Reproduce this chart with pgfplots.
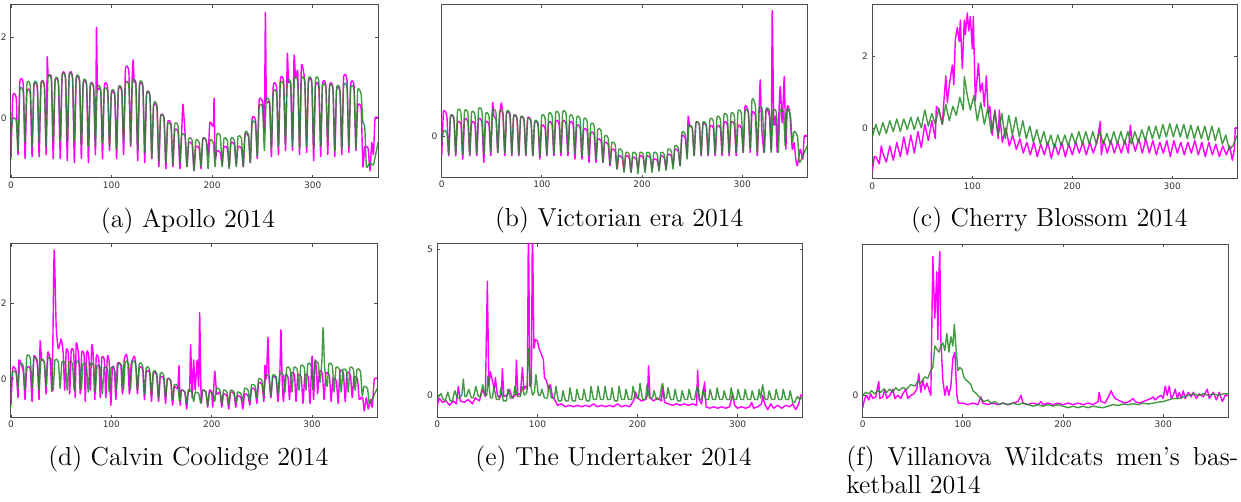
\documentclass[border=0pt]{standalone}
\usepackage{pgfplots}
\pgfplotsset{compat=1.18}
\usepackage{fontspec}
\newfontfamily\tickfont{DejaVu Sans}
\definecolor{mag}{RGB}{255,0,255}
\definecolor{grn}{RGB}{34,139,34}
\pgfplotsset{
  panel/.style={scale only axis, anchor=south west, xmin=0, xmax=365,
    xtick={0,100,200,300}, tick align=inside, major tick length=1.5pt,
    tick style={black!70, line width=0.4pt},
    axis line style={black!70, line width=0.5pt},
    ticklabel style={font=\tickfont\fontsize{4.5}{5}\selectfont, text=black!80, inner sep=0pt},
    xticklabel style={yshift=-1.6pt}, yticklabel style={xshift=-2pt},
    /pgf/number format/assume math mode=true},
  m/.style={mag, line width=0.7pt, line join=round},
  g/.style={grn, line width=0.7pt, line join=round, opacity=0.85},
  sm/.style={smooth, tension=0.3}
}
\begin{document}
\begin{tikzpicture}
\path[use as bounding box] (0,0) rectangle (620.5pt,251pt);
% (a) Apollo
\begin{axis}[panel, at={(5.5pt,162pt)}, width=183.5pt, height=86.5pt, ymin=-1.48, ymax=2.81, ytick={0,2}]
\addplot[m,sm] coordinates {(0,-1.0) (1.8,0.55) (5.2,0.5) (7,-0.9) (8.8,0.9) (12.2,0.85) (14,-1.0) (15.8,0.65) (19.2,0.6) (21,-0.95) (22.8,0.8) (26.2,0.75) (28,-0.95) (29.8,0.85) (33.2,0.8) (35,-0.9) (36,1.5) (37,1.05) (40.2,1.0) (42,-1.0) (43.8,0.9) (47.2,0.85) (49,-1.0) (50.8,1.05) (54.2,1.0) (56,-1.05) (57.8,1.05) (61.2,1.0) (63,-1.1) (64.8,0.95) (68.2,0.9) (70,-1.0) (71.8,0.85) (75.2,0.8) (77,-1.1) (78.8,0.8) (82.2,0.75) (84,-0.9) (85,2.25) (86,0.75) (89.2,0.7) (91,-1.0) (92.8,0.8) (96.2,0.75) (98,-0.8) (99.8,0.6) (103.2,0.55) (105,-1.0) (106.8,0.7) (110.2,0.65) (112,-0.9) (113.8,1.2) (117.2,1.15) (119,-0.7) (120.5,1.0) (121.5,1.45) (122.5,0.9) (124.2,0.85) (126,-1.05) (127.8,0.8) (131.2,0.75) (133,-1.1) (134.8,0.6) (138.2,0.55) (140,-1.0) (141.8,0.3) (145.2,0.25) (147,-1.2) (148.8,0.05) (152.2,0.0) (154,-1.25) (155.8,-0.1) (159.2,-0.15) (161,-1.2) (162.8,-0.3) (166.2,-0.35) (168,-1.25) (169.8,-0.3) (171,0.35) (173.2,-0.4) (175,-1.2) (176.8,-0.6) (180.2,-0.65) (182,-1.3) (183.8,-0.7) (187.2,-0.75) (189,-1.25) (190.8,-0.5) (194.2,-0.55) (196,-0.9) (197.8,-0.1) (201.2,-0.2) (202,0.5) (203,-1.0) (204.8,-0.8) (208.2,-0.85) (210,-1.15) (211.8,-0.7) (215.2,-0.75) (217,-1.2) (218.8,-0.6) (222.2,-0.65) (224,-1.15) (225.8,-0.7) (229.2,-0.75) (231,-1.2) (232.8,-0.4) (236.2,-0.45) (238,-1.1) (239.8,0.0) (243.2,-0.05) (245,-1.0) (246.8,0.45) (250.2,0.4) (252,-0.3) (253,2.62) (254,0.45) (257.2,0.4) (259,-0.95) (260.8,0.8) (264.2,0.75) (266,-0.9) (267.8,0.95) (271.2,0.9) (273,-0.8) (274.8,1.6) (276,0.9) (278.2,0.85) (280,-0.8) (281.5,1.55) (283,1.0) (285.2,1.15) (287,-0.9) (288.8,1.3) (292.2,0.9) (294,-0.85) (295.8,0.9) (299.2,0.85) (301,-1.05) (302.8,0.8) (306.2,0.75) (308,-0.95) (309.8,0.85) (313.2,0.8) (315,-0.9) (316.8,0.8) (320.2,0.75) (322,-0.95) (323.8,0.7) (327.2,0.65) (329,-0.9) (330.8,1.0) (334.2,0.95) (336,-0.85) (337.8,0.85) (341.2,0.8) (343,-0.8) (344.8,0.3) (348.2,0.25) (350,-1.2) (351.8,-0.7) (355.2,-0.75) (357,-1.3) (358.8,-0.6) (360.5,-0.9) (362,0) (365,0)};
\addplot[g,sm] coordinates {(0,-0.4) (1.8,0.0) (5.2,-0.05) (7,-0.8) (8.8,0.7) (12.2,0.65) (14,-0.6) (15.8,0.85) (19.2,0.8) (21,-0.7) (22.8,0.85) (26.2,0.8) (28,-0.6) (29.8,0.85) (33.2,0.8) (35,-0.7) (36.8,1.0) (40.2,0.95) (42,-0.6) (43.8,0.95) (47.2,0.9) (49,-0.55) (50.8,1.05) (54.2,1.0) (56,-0.6) (57.8,1.05) (61.2,1.0) (63,-0.55) (64.8,1.0) (68.2,0.95) (70,-0.65) (71.8,0.9) (75.2,0.85) (77,-0.7) (78.8,0.8) (82.2,0.75) (84,-0.7) (85.8,0.75) (89.2,0.7) (91,-0.6) (92.8,0.7) (96.2,0.65) (98,-0.7) (99.8,0.65) (103.2,0.6) (105,-0.75) (106.8,0.75) (110.2,0.7) (112,-0.6) (113.8,0.85) (117.2,0.8) (119,-0.65) (120.8,0.9) (124.2,0.85) (126,-0.8) (127.8,0.85) (131.2,0.8) (133,-0.85) (134.8,0.6) (138.2,0.55) (140,-1.0) (141.8,0.35) (145.2,0.3) (147,-1.05) (148.8,0.05) (152.2,0.0) (154,-1.1) (155.8,-0.15) (159.2,-0.2) (161,-1.15) (162.8,-0.15) (166.2,-0.2) (168,-1.1) (169.8,-0.4) (173.2,-0.45) (175,-1.2) (176.8,-0.5) (180.2,-0.55) (182,-1.3) (183.8,-0.55) (187.2,-0.6) (189,-1.2) (190.8,-0.5) (194.2,-0.55) (196,-1.25) (197.8,-0.55) (201.2,-0.6) (203,-1.2) (204.8,-0.4) (208.2,-0.45) (210,-1.2) (211.8,-0.5) (215.2,-0.55) (217,-1.25) (218.8,-0.5) (222.2,-0.55) (224,-1.2) (225.8,-0.45) (229.2,-0.5) (231,-1.2) (232.8,-0.35) (236.2,-0.4) (238,-1.1) (239.8,-0.1) (243.2,-0.15) (245,-0.95) (246.8,0.3) (250.2,0.25) (252,-0.8) (253.8,0.45) (257.2,0.4) (259,-0.75) (260.8,0.65) (264.2,0.6) (266,-0.7) (267.8,0.85) (271.2,0.8) (273,-0.65) (274.8,0.9) (278.2,0.85) (280,-0.7) (281.8,0.95) (285.2,0.9) (287,-0.75) (288.8,0.95) (292.2,0.9) (294,-0.7) (295.8,0.95) (299.2,0.9) (301,-0.75) (302.8,0.95) (306.2,0.9) (308,-0.7) (309.8,0.8) (313.2,0.75) (315,-0.6) (316.8,0.78) (320.2,0.73) (322,-0.8) (323.8,0.75) (327.2,0.7) (329,-0.75) (330.8,0.8) (334.2,0.75) (336,-0.7) (337.8,0.75) (341.2,0.7) (343,-0.75) (344.8,0.7) (348.2,0.6) (350,-0.1) (351.8,-0.2) (353.5,-1.2) (357,-1.1) (360.5,-1.15) (365,-0.6)};
\end{axis}
% (b) Victorian era
\begin{axis}[panel, at={(220.85pt,162.15pt)}, width=182.8pt, height=86.35pt, ymin=-0.632, ymax=1.985, ytick={0}]
\addplot[m,sm] coordinates {(0,-0.3) (1.8,0.37) (5.2,0.3) (7,-0.3) (8.8,0.3) (12.2,0.25) (14,-0.3) (15.8,0.2) (19.2,0.17) (21,-0.35) (22.8,0.25) (26.2,0.2) (28,-0.3) (29.8,0.2) (33.2,0.17) (35,-0.3) (36.8,0.25) (40.2,0.2) (42,-0.4) (43.8,0.2) (47.2,0.17) (49,-0.3) (50.8,0.5) (52,0.3) (54.2,0.25) (56,-0.25) (57.8,0.3) (59.5,0.5) (61.2,0.3) (63,-0.3) (64.8,0.35) (68.2,0.3) (70,-0.3) (71.8,0.3) (75.2,0.25) (77,-0.3) (78.8,0.28) (82.2,0.23) (84,-0.3) (85.8,0.27) (89.2,0.22) (91,-0.3) (92.8,0.2) (96.2,0.17) (98,-0.35) (99.8,0.15) (103.2,0.12) (105,-0.3) (106.8,0.2) (110.2,0.17) (112,-0.3) (113.8,0.22) (117.2,0.18) (119,-0.3) (120.8,0.22) (124.2,0.18) (126,-0.3) (127.8,0.2) (131.2,0.17) (133,-0.35) (134.8,0.15) (138.2,0.12) (140,-0.35) (141.8,0.1) (145.2,0.07) (147,-0.4) (148.8,0.05) (152.2,0.02) (154,-0.4) (155.8,-0.05) (159.2,-0.08) (161,-0.4) (162.8,-0.1) (166.2,-0.13) (168,-0.45) (169.8,-0.2) (173.2,-0.23) (175,-0.5) (176.8,-0.3) (180.2,-0.33) (182,-0.52) (183.8,-0.3) (187.2,-0.33) (189,-0.55) (190.8,-0.32) (194.2,-0.35) (196,-0.5) (197.8,-0.3) (201.2,-0.33) (203,-0.52) (204.8,-0.3) (208.2,-0.33) (210,-0.5) (211.8,-0.35) (215.2,-0.37) (217,-0.5) (218.8,-0.3) (222.2,-0.33) (224,-0.5) (225.8,-0.28) (229.2,-0.3) (231,-0.45) (232.8,-0.2) (236.2,-0.23) (238,-0.45) (239.8,0.0) (243.2,-0.03) (245,-0.3) (246,0.3) (247.5,0.15) (250.2,0.12) (252,-0.3) (253.8,0.2) (257.2,0.17) (259,-0.3) (260.8,0.18) (264.2,0.15) (266,-0.3) (267.8,0.15) (271.2,0.12) (273,-0.3) (274.8,0.15) (278.2,0.12) (280,-0.3) (281.8,0.2) (285.2,0.17) (287,-0.3) (288.8,0.2) (292.2,0.17) (294,-0.3) (295.8,0.15) (299.2,0.12) (301,-0.25) (302.8,0.45) (306.2,0.35) (308,-0.25) (309.8,0.35) (313.2,0.3) (315,-0.3) (316.5,0.2) (318,0.85) (319.5,0.1) (322,-0.25) (323.8,0.4) (327.2,0.3) (329,-0.2) (330,1.9) (331.5,0.2) (333.5,0.3) (335,-0.25) (336.5,0.3) (338,0.75) (340,0.2) (342,0.9) (343.5,-0.2) (345,0.45) (347.5,0.35) (350,-0.2) (351.8,-0.1) (353.5,-0.35) (355,-0.45) (358,-0.2) (360.5,-0.35) (362,0) (365,0)};
\addplot[g,sm] coordinates {(0,-0.1) (1.8,0.08) (5.2,0.05) (7,-0.28) (8.8,0.3) (12.2,0.27) (14,-0.28) (15.8,0.38) (19.2,0.35) (21,-0.28) (22.8,0.37) (26.2,0.34) (28,-0.28) (29.8,0.35) (33.2,0.32) (35,-0.27) (36.8,0.4) (40.2,0.37) (42,-0.27) (43.8,0.33) (47.2,0.3) (49,-0.25) (50.8,0.38) (54.2,0.35) (56,-0.25) (57.8,0.37) (61.2,0.34) (63,-0.26) (64.8,0.36) (68.2,0.33) (70,-0.28) (71.8,0.3) (75.2,0.27) (77,-0.28) (78.8,0.28) (82.2,0.25) (84,-0.28) (85.8,0.25) (89.2,0.22) (91,-0.3) (92.8,0.22) (96.2,0.19) (98,-0.3) (99.8,0.3) (103.2,0.27) (105,-0.28) (106.8,0.33) (110.2,0.3) (112,-0.27) (113.8,0.35) (117.2,0.32) (119,-0.25) (120.8,0.36) (124.2,0.33) (126,-0.25) (127.8,0.3) (131.2,0.27) (133,-0.27) (134.8,0.28) (138.2,0.25) (140,-0.3) (141.8,0.25) (145.2,0.22) (147,-0.3) (148.8,0.18) (152.2,0.15) (154,-0.35) (155.8,0.1) (159.2,0.07) (161,-0.4) (162.8,0.0) (166.2,-0.03) (168,-0.42) (169.8,-0.1) (173.2,-0.13) (175,-0.5) (176.8,-0.2) (180.2,-0.23) (182,-0.55) (183.8,-0.25) (187.2,-0.28) (189,-0.55) (190.8,-0.25) (194.2,-0.28) (196,-0.57) (197.8,-0.25) (201.2,-0.28) (203,-0.55) (204.8,-0.25) (208.2,-0.28) (210,-0.55) (211.8,-0.25) (215.2,-0.28) (217,-0.53) (218.8,-0.25) (222.2,-0.28) (224,-0.52) (225.8,-0.2) (229.2,-0.23) (231,-0.5) (232.8,-0.15) (236.2,-0.18) (238,-0.45) (239.8,0.05) (243.2,0.02) (245,-0.35) (246.8,0.15) (250.2,0.12) (252,-0.3) (253.8,0.2) (257.2,0.17) (259,-0.28) (260.8,0.2) (264.2,0.17) (266,-0.28) (267.8,0.25) (271.2,0.22) (273,-0.27) (274.8,0.28) (278.2,0.25) (280,-0.26) (281.8,0.32) (285.2,0.29) (287,-0.26) (288.8,0.33) (292.2,0.3) (294,-0.25) (295.8,0.37) (299.2,0.34) (301,-0.25) (302.8,0.38) (306.2,0.35) (308,-0.2) (309.8,0.55) (313.2,0.45) (315,-0.25) (316.8,0.42) (320.2,0.39) (322,-0.25) (323.8,0.4) (327.2,0.37) (329,-0.25) (330.8,0.38) (334.2,0.35) (336,-0.25) (337.8,0.38) (341.2,0.35) (343,-0.15) (344.8,0.42) (348.2,0.3) (350,-0.1) (351.8,0.07) (355.2,0.0) (357,-0.4) (360.5,-0.3) (365,-0.15)};
\end{axis}
% (c) Cherry Blossom
\begin{axis}[panel, at={(436.15pt,161.5pt)}, width=182.5pt, height=87pt, ymin=-1.42, ymax=3.42, ytick={0,2}]
\addplot[m] coordinates {(0,-1.2) (2,-0.8) (3.5,-0.8) (7,-1.0) (9,-0.5) (10.5,-0.7) (14,-0.95) (17.5,-0.5) (21,-0.9) (24.5,-0.4) (28,-0.8) (31.5,-0.25) (35,-0.75) (38.5,-0.2) (42,-0.7) (45.5,-0.1) (49,-0.55) (52.5,0.1) (56,-0.35) (59.5,0.2) (63,-0.3) (64,0.6) (66.5,0.5) (70,0.1) (72,0.9) (73.5,1.45) (75,0.7) (77,1.2) (80,1.75) (81.5,1.2) (83,2.45) (85,2.8) (87,2.4) (88,3.0) (90,1.65) (92,3.0) (93,2.6) (95,3.2) (96.5,2.7) (98,3.1) (100,2.2) (101,3.1) (103,0.75) (106,1.8) (108,1.0) (110,1.25) (112,0.6) (114,1.45) (116,0.4) (117.5,0.6) (120,-0.2) (122.5,0.5) (126,-0.3) (127,0.5) (130,-0.4) (133.5,0.0) (137,-0.5) (140.5,-0.2) (144,-0.6) (147.5,-0.3) (151,-0.7) (154.5,-0.4) (158,-0.75) (161.5,-0.4) (165,-0.8) (168.5,-0.45) (172,-0.75) (175.5,-0.4) (179,-0.85) (182.5,-0.45) (186,-0.75) (189.5,-0.4) (193,-0.8) (196.5,-0.45) (200,-0.75) (203.5,-0.4) (207,-0.7) (210.5,-0.4) (214,-0.75) (217.5,-0.4) (221,-0.7) (224.5,-0.4) (228,0.18) (229,-0.75) (231.5,-0.35) (235,-0.7) (238.5,-0.35) (242,-0.7) (245.5,-0.4) (249,-0.7) (252.5,-0.35) (256,-0.7) (258,0.08) (259.5,-0.3) (263,-0.65) (266.5,-0.3) (270,-0.7) (273.5,-0.3) (277,-0.7) (280.5,-0.35) (284,-0.75) (287.5,-0.4) (291,-0.7) (294.5,-0.35) (298,-0.8) (301.5,-0.35) (305,-0.7) (308.5,-0.4) (312,-0.75) (315.5,-0.4) (319,-0.7) (322.5,-0.35) (326,-0.75) (329.5,-0.4) (333,-0.8) (336.5,-0.4) (340,-0.75) (343.5,-0.45) (347,-0.8) (350.5,-0.5) (354,-0.75) (357.5,-0.5) (360,-0.9) (362,-0.6) (363,0) (365,0)};
\addplot[g] coordinates {(0,-0.25) (3.5,0.1) (7,-0.2) (10.5,0.15) (14,-0.15) (17.5,0.2) (21,-0.1) (24.5,0.25) (28,-0.1) (31.5,0.25) (35,-0.05) (38.5,0.3) (42,-0.05) (45.5,0.3) (49,0.0) (52.5,0.5) (56,0.05) (59.5,0.4) (63,0.1) (66.5,0.55) (70,0.1) (73.5,0.65) (77,0.2) (80.5,0.6) (84,0.35) (87.5,0.85) (91,0.5) (92,1.43) (95,0.9) (98,0.5) (101.5,0.9) (105,0.2) (108.5,0.7) (112,0.1) (115.5,0.55) (119,-0.15) (122.5,0.45) (126,-0.2) (129.5,0.4) (133,-0.3) (136.5,0.35) (140,-0.2) (143.5,0.3) (147,-0.25) (150.5,0.2) (154,-0.3) (157.5,0.05) (161,-0.4) (164.5,-0.05) (168,-0.45) (171.5,-0.1) (175,-0.5) (178.5,-0.2) (182,-0.55) (185.5,-0.2) (189,-0.5) (192.5,-0.2) (196,-0.5) (199.5,-0.15) (203,-0.45) (206.5,-0.1) (210,-0.45) (213.5,-0.1) (217,-0.45) (220.5,-0.1) (224,-0.45) (227.5,-0.1) (231,-0.45) (234.5,-0.15) (238,-0.45) (241.5,-0.1) (245,-0.45) (248.5,-0.1) (252,-0.45) (255.5,-0.1) (259,-0.45) (262.5,-0.1) (266,-0.4) (269.5,-0.05) (273,-0.35) (276.5,0.05) (280,-0.3) (283.5,0.05) (287,-0.3) (290.5,0.1) (294,-0.25) (297.5,0.12) (301,-0.25) (304.5,0.1) (308,-0.25) (311.5,0.1) (315,-0.3) (318.5,0.08) (322,-0.3) (325.5,0.05) (329,-0.3) (332.5,0.05) (336,-0.35) (339.5,0.05) (343,-0.35) (346.5,0.0) (350,-0.45) (353.5,-0.2) (357,-0.6) (360.5,-0.5) (365,-0.2)};
\end{axis}
% (d) Calvin Coolidge
\begin{axis}[panel, at={(5.5pt,42.15pt)}, width=183.15pt, height=86.85pt, ymin=-1.03, ymax=3.57, ytick={0,2}]
\addplot[m,sm] coordinates {(0,-0.7) (1.8,0.3) (5.2,0.2) (7,-0.5) (8,0.5) (12.2,0.2) (14,-0.55) (15.8,0.3) (19.2,0.25) (21,-0.6) (22.8,0.6) (26.2,0.4) (28,-0.55) (29,1.0) (30.5,0.5) (33.2,0.45) (35,-0.4) (36.5,0.7) (39,0.5) (41,-0.3) (43,3.4) (45,1.4) (47,0.8) (48.5,0.9) (50,1.05) (52,0.7) (53.5,-0.3) (55,0.75) (57,0.7) (58.5,-0.4) (60,0.75) (62.5,0.7) (64,-0.5) (65,0.95) (67.5,0.6) (69,-0.4) (70.5,0.7) (73,0.6) (74,-0.6) (75.5,0.7) (77.5,0.6) (79,-0.3) (80.5,0.9) (82,0.6) (83.5,-0.55) (85,0.6) (87.5,0.5) (89,-0.5) (90.5,0.55) (93,0.5) (94.5,-0.5) (96,0.6) (98,0.4) (99.5,-0.7) (101,0.3) (103,0.25) (104.5,-0.55) (106,0.4) (109.5,0.35) (111,-0.4) (112.8,0.5) (115,0.65) (116.5,0.4) (118,-0.4) (119.8,0.4) (123,0.6) (124.5,0.3) (126,-0.4) (127.8,0.3) (131.2,0.25) (133,-0.55) (134.8,0.2) (138.2,0.15) (140,-0.6) (141.8,0.15) (145.2,0.1) (147,-0.6) (148.8,0.05) (152.2,0.0) (154,-0.65) (155.8,0.0) (159.2,-0.05) (161,-0.7) (162.8,-0.2) (166.2,-0.25) (167.5,0.35) (168.5,-0.7) (169.8,-0.3) (173.2,-0.35) (175,-0.8) (176.8,-0.3) (178,-0.3) (179,0.9) (180.5,-0.5) (182,0.5) (183.5,-0.3) (185.5,0.5) (187,-0.2) (188,1.75) (189.5,-0.6) (191,-0.3) (194.2,-0.35) (196,-0.75) (197.8,-0.3) (200,-0.35) (201,-0.75) (203,0.2) (205,-0.4) (208.2,-0.35) (210,-0.75) (211.8,-0.4) (215.2,-0.45) (217,-0.8) (218.8,-0.35) (222.2,-0.4) (224,-0.75) (225.8,-0.45) (229.2,-0.5) (231,-0.8) (232.8,-0.4) (236.2,-0.45) (238,-0.7) (239.8,-0.25) (243.2,-0.3) (245,-0.65) (246.8,-0.1) (250.2,-0.15) (252,-0.6) (253,0.35) (254.5,0.0) (256,1.1) (257.2,0.0) (259,-0.5) (260.8,0.05) (264.2,0.0) (266,-0.6) (267.8,0.05) (269,1.3) (270.2,-0.05) (271.5,-0.6) (273.3,0.1) (276,0.05) (277.5,-0.55) (279.3,0.15) (282.5,0.1) (284,-0.6) (285.8,0.1) (289.2,0.05) (291,-0.65) (292.8,0.1) (296.2,0.05) (298,-0.65) (300,0.6) (301.5,-0.55) (303,0.5) (304.5,0.2) (305.5,-0.4) (307.3,0.2) (310.2,0.15) (312,-0.55) (313.8,0.15) (317.2,0.1) (319,-0.6) (320.8,0.0) (324.2,-0.05) (326,-0.65) (327.8,0.2) (331.2,0.15) (333,-0.6) (334.8,0.15) (338.2,0.1) (340,-0.5) (341.8,0.05) (345.2,0.0) (347,-0.55) (348.8,-0.5) (350.5,-0.5) (352,-0.85) (354,-0.5) (356,-0.8) (358,-0.55) (360,-0.75) (362,0) (365,0)};
\addplot[g,sm] coordinates {(0,-0.2) (1.8,0.2) (5.2,0.15) (7,-0.25) (8.8,0.4) (12.2,0.35) (14,-0.3) (15.8,0.6) (19.2,0.55) (21,-0.25) (22.8,0.55) (26.2,0.5) (28,-0.3) (29.8,0.5) (33.2,0.45) (35,-0.2) (36.8,0.55) (40.2,0.5) (42,-0.3) (43.8,0.5) (47.2,0.45) (49,-0.25) (50.8,0.45) (54.2,0.4) (56,-0.3) (57.8,0.45) (61.2,0.4) (63,-0.3) (64.8,0.45) (68.2,0.4) (70,-0.3) (71.8,0.4) (75.2,0.35) (77,-0.35) (78.8,0.4) (82.2,0.35) (84,-0.35) (85.8,0.35) (89.2,0.3) (91,-0.4) (92.8,0.3) (96.2,0.25) (98,-0.35) (99.8,0.3) (103.2,0.25) (105,-0.3) (106.8,0.4) (110.2,0.35) (112,-0.3) (113.8,0.45) (117.2,0.4) (119,-0.3) (120.8,0.45) (124.2,0.4) (126,-0.3) (127.8,0.4) (131.2,0.35) (133,-0.4) (134.8,0.3) (138.2,0.25) (140,-0.45) (141.8,0.2) (145.2,0.15) (147,-0.5) (148.8,0.15) (152.2,0.1) (154,-0.5) (155.8,0.0) (159.2,-0.05) (161,-0.55) (162.8,-0.15) (166.2,-0.2) (168,-0.6) (169.8,-0.3) (173.2,-0.35) (175,-0.65) (176.8,-0.3) (180.2,-0.35) (182,-0.6) (183.8,-0.35) (187.2,-0.4) (189,-0.65) (190.8,-0.3) (194.2,-0.35) (196,-0.7) (197.8,-0.35) (201.2,-0.4) (203,-0.6) (204.8,-0.25) (208.2,-0.3) (210,-0.65) (211.8,-0.3) (215.2,-0.35) (217,-0.7) (218.8,-0.3) (222.2,-0.35) (224,-0.65) (225.8,-0.35) (229.2,-0.4) (231,-0.6) (232.8,-0.25) (236.2,-0.3) (238,-0.6) (239.8,-0.15) (243.2,-0.2) (245,-0.5) (246.8,0.0) (250.2,-0.05) (252,-0.45) (253.8,0.1) (257.2,0.05) (259,-0.45) (260.8,0.1) (264.2,0.05) (266,-0.4) (267.8,0.15) (271.2,0.1) (273,-0.35) (274.8,0.3) (278.2,0.25) (280,-0.35) (281.8,0.3) (285.2,0.25) (287,-0.3) (288.8,0.35) (292.2,0.3) (294,-0.3) (295.8,0.4) (299.2,0.35) (301,-0.3) (302.8,0.45) (306.2,0.4) (308,-0.1) (309.8,0.5) (311,1.35) (312.5,0.3) (315,-0.2) (316.8,0.4) (320.2,0.35) (322,-0.35) (323.8,0.3) (327.2,0.25) (329,-0.35) (330.8,0.25) (334.2,0.2) (336,-0.35) (337.8,0.3) (341.2,0.25) (343,-0.3) (344.8,0.25) (348.2,0.2) (350,-0.45) (351.8,-0.2) (355.2,-0.25) (357,-0.65) (360.5,-0.5) (365,-0.25)};
\end{axis}
% (e) The Undertaker
\begin{axis}[panel, at={(218.65pt,42.35pt)}, width=182.7pt, height=86.65pt, ymin=-0.76, ymax=5.17, ytick={0,5}]
\addplot[m] coordinates {(0,-0.35) (2,-0.1) (5,-0.25) (9,-0.2) (12,-0.35) (16,-0.2) (19,-0.3) (21,0.3) (23,-0.2) (27,-0.25) (31,-0.15) (35,-0.3) (38,-0.1) (42,-0.2) (45,0.2) (48,-0.05) (50,3.9) (51.5,0.3) (53,0.8) (55,0.5) (57,0.2) (58,0.6) (60,0.0) (62,-0.1) (64,0.0) (65,0.9) (66.5,-0.05) (70,0.0) (72,0.2) (75,-0.1) (78,0.0) (79,1.2) (80.5,0.0) (83,0.05) (85,0.95) (86.5,0.2) (88,0.3) (90,0.2) (91,6.0) (92.5,0.3) (94,0.4) (95,6.0) (96.5,1.6) (98,1.9) (100,1.85) (102,1.55) (104,1.4) (106,1.2) (107,0.6) (109,0.5) (111,0.2) (113,0.35) (115,-0.05) (118,-0.2) (120,-0.35) (124,-0.3) (128,-0.4) (132,-0.35) (136,-0.4) (140,-0.35) (144,-0.4) (148,-0.35) (152,-0.4) (156,-0.3) (160,-0.4) (164,-0.35) (168,-0.4) (172,-0.35) (176,-0.4) (180,-0.3) (184,-0.4) (188,-0.35) (192,-0.4) (196,-0.2) (198,0.1) (200,-0.1) (204,-0.2) (208,-0.15) (210,0.0) (211,1.0) (212.5,-0.1) (216,-0.2) (220,-0.1) (224,-0.2) (225,0.35) (227,-0.25) (231,-0.3) (235,-0.35) (239,-0.3) (243,-0.35) (247,-0.3) (251,-0.35) (255,-0.3) (259,-0.35) (260,0.85) (261.5,-0.15) (264,-0.3) (267,0.45) (268.5,-0.4) (272,-0.45) (276,-0.4) (280,-0.45) (284,-0.4) (288,-0.45) (292,-0.4) (295,0.05) (297,-0.35) (300,-0.45) (304,-0.4) (308,-0.45) (312,-0.4) (314,-0.25) (316,-0.45) (320,-0.4) (324,-0.3) (325,0.0) (327,-0.3) (330,-0.5) (333,-0.3) (336,-0.45) (340,-0.35) (344,-0.45) (348,-0.35) (352,-0.4) (355,-0.3) (358,-0.5) (361,-0.3) (363,0.0) (365,0.0)};
\addplot[g] coordinates {(0,-0.1) (3.5,0.05) (6,-0.15) (8,-0.2) (10.5,0.1) (13,-0.2) (15,-0.2) (17.5,0.15) (20,-0.1) (22,-0.1) (24.5,0.0) (26,0.55) (27.5,-0.05) (29,-0.05) (31.5,0.2) (34,-0.1) (36,-0.1) (38.5,0.3) (41,-0.05) (43,-0.05) (45.5,0.35) (48,0.0) (49.5,0.0) (50.5,0.65) (53,-0.1) (55,-0.1) (56.5,0.3) (59,-0.15) (62,-0.15) (63.5,0.25) (66,-0.2) (69,-0.2) (70.5,0.2) (73,-0.1) (76,-0.1) (77.5,0.3) (80,-0.05) (83,-0.05) (84.5,0.3) (87,0.0) (89.5,0.1) (91,1.6) (93,0.4) (95,0.0) (97,0.1) (98.5,0.7) (101,0.0) (103,0.0) (104.5,0.2) (107,-0.1) (110,-0.1) (111.5,0.35) (114,-0.1) (117,-0.1) (118.5,0.3) (121,-0.2) (124,-0.2) (125.5,0.15) (128,-0.2) (131,-0.2) (132.5,0.25) (135,-0.2) (138,-0.2) (139.5,0.2) (142,-0.15) (145,-0.15) (146.5,0.2) (149,-0.2) (152,-0.2) (153.5,0.3) (156,-0.15) (159,-0.15) (160.5,0.3) (163,-0.15) (166,-0.15) (167.5,0.3) (170,-0.15) (173,-0.15) (174.5,0.25) (177,-0.2) (180,-0.2) (181.5,0.3) (184,-0.15) (187,-0.15) (188.5,0.2) (191,-0.15) (194,-0.15) (195.5,0.3) (198,-0.1) (201,-0.1) (202.5,0.4) (205,-0.15) (208,-0.15) (209.5,0.35) (212,-0.1) (215,-0.1) (216.5,0.15) (219,-0.15) (222,-0.15) (223.5,0.2) (225,0.4) (227,-0.1) (229,-0.1) (230.5,0.25) (233,-0.15) (236,-0.15) (237.5,0.2) (240,-0.2) (243,-0.2) (244.5,0.15) (247,-0.15) (250,-0.15) (251.5,0.2) (254,-0.15) (257,-0.15) (258.5,0.15) (260,0.3) (262,-0.15) (264,-0.15) (265.5,0.2) (268,-0.15) (271,-0.15) (272.5,0.2) (275,-0.15) (278,-0.15) (279.5,0.25) (282,-0.15) (285,-0.15) (286.5,0.15) (289,-0.15) (292,-0.15) (293.5,0.25) (296,-0.15) (299,-0.15) (300.5,0.2) (303,-0.15) (306,-0.15) (307.5,0.2) (310,-0.15) (313,-0.15) (314.5,0.15) (317,-0.15) (320,-0.15) (321.5,0.2) (323,-0.1) (325,0.35) (327.5,-0.15) (330,-0.15) (331.5,0.15) (334,-0.15) (337,-0.15) (338.5,0.2) (341,-0.15) (344,-0.15) (345.5,0.2) (348,-0.15) (351,-0.15) (352.5,0.15) (355,-0.25) (357,-0.25) (359.5,-0.05) (362,-0.15) (365,-0.05)};
\end{axis}
% (f) Villanova
\begin{axis}[panel, at={(431.35pt,42.35pt)}, width=182.8pt, height=86.65pt, ymin=-0.71, ymax=4.9, ytick={0}]
\addplot[m] coordinates {(0,-0.4) (2,-0.1) (4,0.0) (6,-0.15) (8,0.05) (10,-0.1) (13,-0.05) (16,0.45) (17,-0.1) (20,-0.05) (22,0.2) (24,-0.1) (27,0.0) (30,0.2) (32,-0.1) (35,0.0) (38,-0.1) (40,0.05) (43,0.2) (45,-0.1) (48,0.0) (51,0.05) (54,0.2) (56,0.7) (58,0.1) (60,0.5) (62,0.2) (64,0.4) (66,0.2) (68,0.0) (70,4.5) (72,2.5) (74,4.0) (75,1.8) (76,3.9) (77,4.65) (78,1.8) (80,0.5) (82,0.0) (84,0.3) (86,0.0) (88,0.3) (90,1.2) (92,1.4) (94,0.0) (95.5,-0.25) (100,-0.25) (105,-0.3) (110,-0.25) (115,-0.3) (118,-0.05) (120,-0.25) (125,-0.3) (130,-0.25) (135,-0.3) (140,-0.25) (145,-0.3) (150,-0.25) (155,-0.2) (158,0.0) (160,-0.25) (165,-0.3) (170,-0.25) (175,-0.3) (178,-0.2) (180,-0.3) (185,-0.25) (190,-0.3) (195,-0.25) (200,-0.3) (205,-0.25) (210,-0.3) (215,-0.25) (220,-0.3) (225,-0.25) (230,-0.3) (235,-0.2) (236,0.1) (238,-0.2) (242,-0.25) (246,0.0) (248,0.15) (250,0.0) (252,-0.1) (255,-0.15) (258,-0.2) (262,-0.25) (266,-0.2) (270,-0.1) (272,-0.2) (276,-0.25) (280,-0.2) (284,-0.15) (288,-0.1) (290,-0.05) (292,-0.15) (295,-0.05) (298,0.0) (300,-0.1) (302,0.3) (304,0.0) (306,0.3) (308,-0.1) (310,0.0) (312,0.2) (314,-0.1) (316,0.1) (318,-0.1) (320,0.15) (322,-0.1) (325,0.1) (328,-0.05) (330,0.1) (333,-0.1) (336,0.05) (340,-0.05) (344,0.2) (346,-0.1) (350,0.1) (353,-0.15) (356,0.1) (359,-0.2) (362,0.0) (365,0.0)};
\addplot[g] coordinates {(0,0.0) (3,0.1) (6,0.05) (9,0.15) (12,0.05) (15,0.15) (18,0.1) (21,0.2) (24,0.1) (27,0.2) (30,0.1) (33,0.25) (36,0.15) (40,0.25) (44,0.2) (48,0.35) (52,0.3) (55,0.45) (58,0.4) (62,0.6) (65,0.55) (68,0.8) (70,0.9) (72,1.6) (74,1.5) (76,1.4) (78,1.6) (80,1.7) (82,1.45) (84,2.0) (86,1.4) (88,1.9) (90,1.6) (91.5,2.3) (93,1.6) (95,0.8) (97,0.9) (99,0.85) (101,0.6) (103,0.5) (105,0.45) (108,0.35) (110,0.15) (112,0.1) (115,0.0) (118,-0.1) (121,-0.2) (125,-0.15) (128,-0.25) (132,-0.2) (136,-0.3) (140,-0.25) (145,-0.3) (150,-0.25) (155,-0.3) (160,-0.25) (165,-0.3) (170,-0.35) (175,-0.3) (180,-0.35) (185,-0.3) (190,-0.35) (195,-0.3) (200,-0.35) (205,-0.4) (210,-0.35) (215,-0.4) (220,-0.35) (225,-0.4) (230,-0.35) (235,-0.38) (240,-0.4) (245,-0.35) (250,-0.3) (255,-0.33) (260,-0.28) (265,-0.3) (270,-0.27) (275,-0.3) (280,-0.25) (285,-0.28) (290,-0.25) (295,-0.22) (300,-0.2) (305,-0.15) (310,-0.1) (315,-0.1) (320,-0.05) (325,0.0) (330,0.05) (335,0.0) (340,0.05) (345,0.0) (350,0.05) (355,0.0) (360,0.05) (365,0.05)};
\end{axis}
% captions
\begin{scope}[every node/.style={inner sep=0pt, font=\fontsize{13}{15.6}\selectfont}]
\node[anchor=base] at (94pt,137.35pt) {(a) Apollo 2014};
\node[anchor=base] at (309.6pt,137.65pt) {(b) Victorian era 2014};
\node[anchor=base] at (524.65pt,137.65pt) {(c) Cherry Blossom 2014};
\node[anchor=base] at (94.15pt,18pt) {(d) Calvin Coolidge 2014};
\node[anchor=base] at (306.85pt,18pt) {(e) The Undertaker 2014};
\node[anchor=base west] at (423pt,18pt) {\makebox[196pt][s]{(f) Villanova Wildcats men’s bas-}};
\node[anchor=base west] at (423pt,4.35pt) {ketball 2014};
\end{scope}
\end{tikzpicture}
\end{document}
